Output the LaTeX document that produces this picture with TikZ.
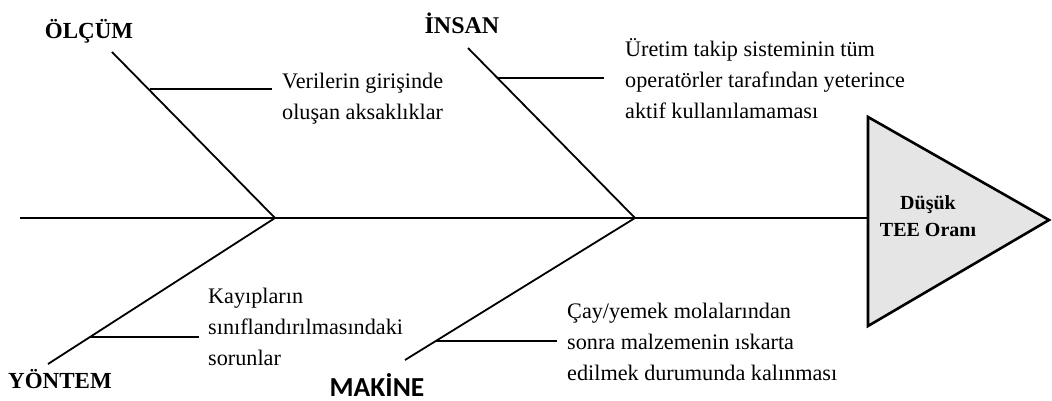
\documentclass[tikz,border=0pt]{standalone}
\usepackage{fontspec}
\setmainfont{Liberation Serif}
\newfontfamily\calibfont{Carlito}
\begin{document}
\begin{tikzpicture}[x=1pt,y=-1pt,
  bone/.style={line width=1.8pt},
  rib/.style={line width=2.6pt},
  spine/.style={line width=2.2pt},
  cat/.style={font=\fontsize{23}{27}\selectfont\bfseries, inner sep=0pt, anchor=base},
  cause/.style={font=\fontsize{22.2}{31}\selectfont, align=left, anchor=west, inner sep=0pt},
  headbox/.style={draw, line width=2.6pt, fill=gray!20, line join=miter}]
\useasboundingbox (0,0) rectangle (1052,401);
% coordinates
\coordinate (tail) at (20,218);
\coordinate (j1) at (275,218);
\coordinate (j2) at (635,218);
\coordinate (hl) at (868,218);
\coordinate (t1) at (868,117);
\coordinate (t2) at (868,326);
\coordinate (tip) at (1049,220);
\coordinate (b1) at (112,52);
\coordinate (b2) at (468,48);
\coordinate (b3) at (48,364);
\coordinate (b4) at (405,360);
\coordinate (r1a) at (150,89);  \coordinate (r1b) at (272,89);
\coordinate (r2a) at (497,78);  \coordinate (r2b) at (604,78);
\coordinate (r3a) at (90,337);  \coordinate (r3b) at (199,337);
\coordinate (r4a) at (436,341); \coordinate (r4b) at (557,341);
% head
\draw[headbox] (t1) -- (tip) -- (t2) -- cycle;
\node[font=\fontsize{20}{27}\selectfont\bfseries, align=center, inner sep=0pt] (head) at (928,216) {Düşük\\TEE Oranı};
% spine and bones
\draw[spine] (tail) -- (hl);
\draw[bone] (b1) -- (j1);
\draw[bone] (b2) -- (j2);
\draw[bone] (b3) -- (j1);
\draw[bone] (b4) -- (j2);
\draw[rib] (r1a) -- (r1b);
\draw[rib] (r2a) -- (r2b);
\draw[rib] (r3a) -- (r3b);
\draw[rib] (r4a) -- (r4b);
% category labels
\node[cat] (olcum) at (89,39) {ÖLÇÜM};
\node[cat, font=\fontsize{24}{27}\selectfont\bfseries] (insan) at (462,34) {İNSAN};
\node[cat] (yontem) at (60,388) {YÖNTEM};
\node[cat, font=\calibfont\fontsize{27.5}{30}\selectfont\bfseries] (makine) at (377,396.5) {MAKİNE};
% causes
\node[cause] (c1) at (282,99) {Verilerin girişinde\\oluşan aksaklıklar};
\node[cause] (c2) at (625,79) {Üretim takip sisteminin tüm\\operatörler tarafından yeterince\\aktif kullanılamaması};
\node[cause] (c3) at (208,327) {Kayıpların\\sınıflandırılmasındaki\\sorunlar};
\node[cause] (c4) at (567,342) {Çay/yemek molalarından\\sonra malzemenin ıskarta\\edilmek durumunda kalınması};
\end{tikzpicture}
\end{document}
